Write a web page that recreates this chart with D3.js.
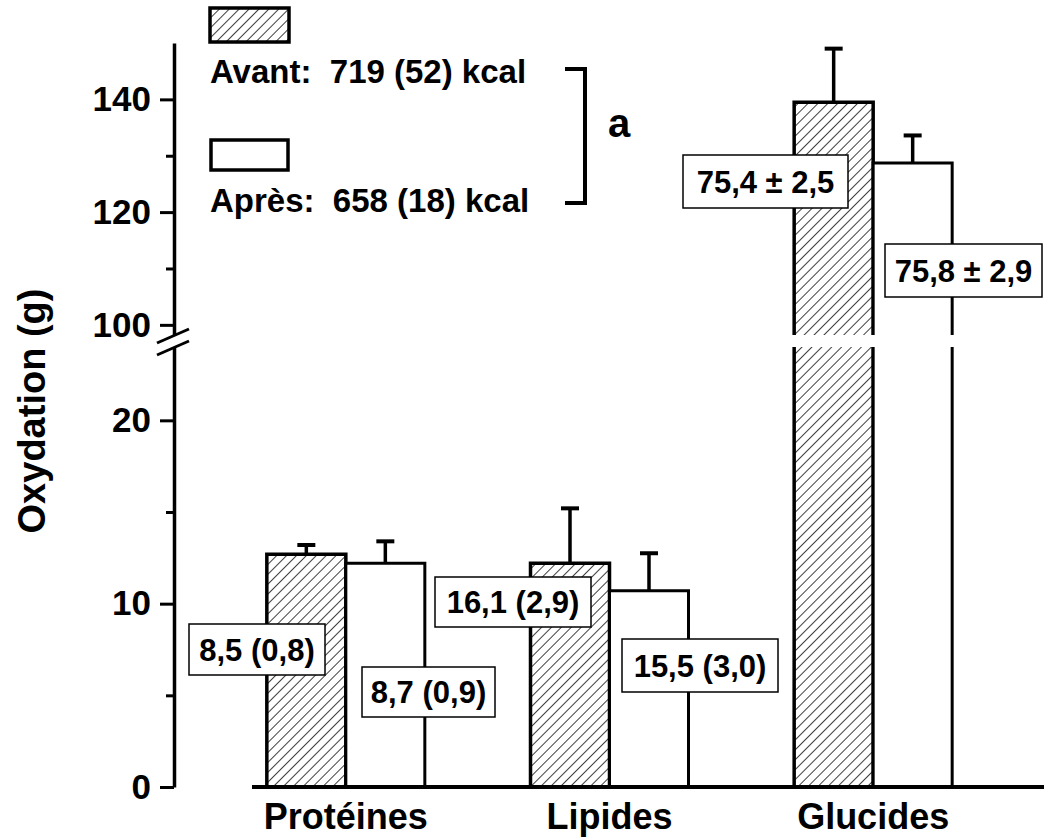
<!DOCTYPE html>
<html>
<head>
<meta charset="utf-8">
<script src="https://cdn.jsdelivr.net/npm/d3@7"></script>
<style>
  html, body { margin: 0; padding: 0; background: #fff; }
  svg { display: block; font-family: "Liberation Sans", Arial, sans-serif; font-weight: bold; }
  text { white-space: pre; }
</style>
</head>
<body>
<svg id="chart" width="1044" height="840"></svg>
<script>
// Substrate oxidation (g), before and after
const categories = ["Protéines", "Lipides", "Glucides"];
const avant = [12.7, 12.2, 139.5];
const apres = [12.2, 10.7, 128.7];
const avantErr = [0.5, 3.0, 9.5];
const apresErr = [1.2, 2.05, 4.9];
const avantLabels = ["8,5 (0,8)", "16,1 (2,9)", "75,4 ± 2,5"];
const apresLabels = ["8,7 (0,9)", "15,5 (3,0)", "75,8 ± 2,9"];
const legendLabels = ["Avant:  719 (52) kcal", "Après:  658 (18) kcal"];
const lowTicks = [0, 10, 20];
const lowMinor = [5, 15];
const highTicks = [100, 120, 140];
const highMinor = [110, 130];

const svg = d3.select("#chart");

// broken y axis: two linear segments
const lowDomain = [0, 24];
const highDomain = [98.2, 150];
const yLow = d3.scaleLinear().domain(lowDomain).range([787, 347]);
const yHigh = d3.scaleLinear().domain(highDomain).range([335, 43]);
const y = v => (v <= lowDomain[1] ? yLow(v) : yHigh(v));

const x = d3.scaleBand().domain(categories).range([214, 1005]).padding(0);
const barW = 79;

// hatch pattern
const defs = svg.append("defs");
const pat = defs.append("pattern")
  .attr("id", "hatch")
  .attr("patternUnits", "userSpaceOnUse")
  .attr("width", 7).attr("height", 7)
  .attr("patternTransform", "rotate(45)");
pat.append("rect").attr("width", 7).attr("height", 7).attr("fill", "#fff");
pat.append("line").attr("x1", 0).attr("y1", 0).attr("x2", 0).attr("y2", 7)
  .attr("stroke", "#000").attr("stroke-width", 1.5);

// bars
const bars = [];
categories.forEach((c, i) => {
  const cx = x(c) + x.bandwidth() / 2;
  bars.push({ x0: cx - barW, v: avant[i], e: avantErr[i], fill: "url(#hatch)", sw: 3.5 });
  bars.push({ x0: cx, v: apres[i], e: apresErr[i], fill: "#fff", sw: 3 });
});

const gBars = svg.append("g");
bars.forEach(b => {
  const x1 = b.x0 + barW;
  if (b.v <= lowDomain[1]) {
    gBars.append("rect").attr("x", b.x0).attr("y", y(b.v)).attr("width", barW)
      .attr("height", y(0) - y(b.v)).attr("fill", b.fill);
    gBars.append("path")
      .attr("d", `M${b.x0},${y(0)}V${y(b.v)}H${x1}V${y(0)}`)
      .attr("fill", "none").attr("stroke", "#000").attr("stroke-width", b.sw)
      .attr("stroke-linejoin", "miter");
  } else {
    // lower piece up to the break, upper piece from the break
    gBars.append("rect").attr("x", b.x0).attr("y", yLow(lowDomain[1])).attr("width", barW)
      .attr("height", yLow(0) - yLow(lowDomain[1])).attr("fill", b.fill);
    gBars.append("rect").attr("x", b.x0).attr("y", yHigh(b.v)).attr("width", barW)
      .attr("height", yHigh(highDomain[0]) - yHigh(b.v)).attr("fill", b.fill);
    gBars.append("path")
      .attr("d", `M${b.x0},${yLow(0)}V${yLow(lowDomain[1])}M${x1},${yLow(0)}V${yLow(lowDomain[1])}`)
      .attr("fill", "none").attr("stroke", "#000").attr("stroke-width", b.sw);
    gBars.append("path")
      .attr("d", `M${b.x0},${yHigh(highDomain[0])}V${yHigh(b.v)}H${x1}V${yHigh(highDomain[0])}`)
      .attr("fill", "none").attr("stroke", "#000").attr("stroke-width", b.sw);
  }
  // error bar (upper half only)
  const cx = b.x0 + barW / 2;
  gBars.append("line").attr("x1", cx).attr("x2", cx)
    .attr("y1", y(b.v)).attr("y2", y(b.v + b.e))
    .attr("stroke", "#000").attr("stroke-width", 3.5);
  gBars.append("line").attr("x1", cx - 9).attr("x2", cx + 9)
    .attr("y1", y(b.v + b.e)).attr("y2", y(b.v + b.e))
    .attr("stroke", "#000").attr("stroke-width", 4);
});

// baseline
svg.append("line").attr("x1", 252).attr("x2", 1044).attr("y1", y(0)).attr("y2", y(0))
  .attr("stroke", "#000").attr("stroke-width", 4);

// y axis segments
const axisX = 174;
function drawAxis(scale, major, minor) {
  const g = svg.append("g").attr("transform", `translate(${axisX},0)`);
  g.call(d3.axisLeft(scale).tickValues(major).tickSize(14).tickSizeOuter(0).tickPadding(9)
    .tickFormat(d3.format("d")));
  const gm = svg.append("g").attr("transform", `translate(${axisX},0)`);
  gm.call(d3.axisLeft(scale).tickValues(minor).tickSize(8).tickSizeOuter(0).tickFormat(""));
  gm.select(".domain").remove();
  [g, gm].forEach(a => {
    a.selectAll("line").attr("stroke", "#000").attr("stroke-width", 3);
    a.selectAll(".domain").attr("stroke", "#000").attr("stroke-width", 3.5);
    a.selectAll("text").attr("fill", "#000").style("font-size", "35px")
      .style("font-family", "'Liberation Sans', Arial, sans-serif").style("font-weight", "bold");
  });
}
drawAxis(yLow, lowTicks, lowMinor);
drawAxis(yHigh, highTicks, highMinor);

// break marks
[yHigh(highDomain[0]) + 1, yLow(lowDomain[1]) + 1].forEach(cy => {
  svg.append("line").attr("x1", axisX - 17).attr("y1", cy + 7).attr("x2", axisX + 15).attr("y2", cy - 7)
    .attr("stroke", "#000").attr("stroke-width", 3);
});

// value label boxes
const labelBoxes = [
  { t: avantLabels[0], x: 189, y: 624, w: 136, h: 51 },
  { t: apresLabels[0], x: 362, y: 667, w: 133, h: 50 },
  { t: avantLabels[1], x: 435, y: 577, w: 156, h: 50 },
  { t: apresLabels[1], x: 622, y: 639, w: 156, h: 53 },
  { t: avantLabels[2], x: 683, y: 155, w: 165, h: 53 },
  { t: apresLabels[2], x: 885, y: 244, w: 157, h: 53 }
];
const gLab = svg.append("g");
labelBoxes.forEach(l => {
  gLab.append("rect").attr("x", l.x).attr("y", l.y).attr("width", l.w).attr("height", l.h)
    .attr("fill", "#fff").attr("stroke", "#000").attr("stroke-width", 1.5);
  gLab.append("text").attr("x", l.x + l.w / 2).attr("y", l.y + l.h / 2 + 11)
    .attr("text-anchor", "middle").style("font-size", "31px").text(l.t);
});

// category labels
svg.append("g").selectAll("text").data(categories).join("text")
  .attr("x", d => x(d) + x.bandwidth() / 2).attr("y", 829)
  .attr("text-anchor", "middle").style("font-size", "36px").text(d => d);

// y axis title
svg.append("text").attr("transform", "translate(45,411) rotate(-90)")
  .attr("text-anchor", "middle").style("font-size", "38px").text("Oxydation (g)");

// legend
svg.append("rect").attr("x", 210).attr("y", 8).attr("width", 79).attr("height", 34)
  .attr("fill", "url(#hatch)").attr("stroke", "#000").attr("stroke-width", 3.5);
svg.append("text").attr("x", 210).attr("y", 83).style("font-size", "33px").text(legendLabels[0]);
svg.append("rect").attr("x", 211).attr("y", 140).attr("width", 77).attr("height", 30)
  .attr("fill", "#fff").attr("stroke", "#000").attr("stroke-width", 3.5);
svg.append("text").attr("x", 210).attr("y", 212).style("font-size", "33px").text(legendLabels[1]);

// significance bracket
svg.append("path").attr("d", "M565,69H585V203H565")
  .attr("fill", "none").attr("stroke", "#000").attr("stroke-width", 4);
svg.append("text").attr("x", 608).attr("y", 137).style("font-size", "40px").text("a");
</script>
</body>
</html>
